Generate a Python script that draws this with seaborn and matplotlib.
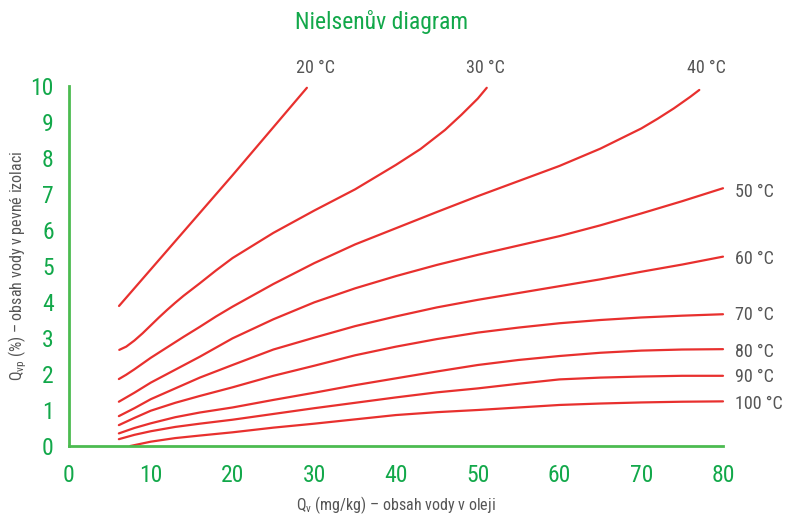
import matplotlib
matplotlib.use("Agg")
import matplotlib.pyplot as plt
from matplotlib import font_manager
import seaborn as sns
import pandas as pd

# Isotherms: water content in oil (mg/kg) vs. water content in solid insulation (%)
x_20 = [6.12, 20, 29.1]
y_20 = [3.89, 7.52, 9.95]

x_30 = [6.15, 7, 8, 9, 10, 11, 12, 13, 14, 16, 18, 20, 25, 30, 35, 40, 43, 46, 48, 50, 51.1]
y_30 = [2.67, 2.76, 2.93, 3.13, 3.35, 3.57, 3.78, 3.98, 4.17, 4.52, 4.88, 5.22, 5.92, 6.54,
        7.13, 7.81, 8.25, 8.78, 9.20, 9.65, 9.95]

x_40 = [6.1, 7, 8, 9, 10, 12, 14, 16, 18, 20, 25, 30, 35, 40, 45, 50, 55, 60, 65, 70, 72, 74, 76, 77.1]
y_40 = [1.86, 1.98, 2.13, 2.29, 2.45, 2.74, 3.03, 3.31, 3.60, 3.87, 4.50, 5.08, 5.60, 6.05,
        6.50, 6.94, 7.36, 7.78, 8.26, 8.82, 9.09, 9.38, 9.70, 9.89]

x_hot = [6.1, 8, 10, 13, 16, 20, 25, 30, 35, 40, 45, 50, 55, 60, 65, 70, 75, 80]
y_50 = [1.23, 1.48, 1.76, 2.12, 2.48, 2.99, 3.52, 3.99, 4.38, 4.72, 5.03, 5.31, 5.57, 5.83, 6.13, 6.46, 6.80, 7.16]
y_60 = [0.83, 1.05, 1.30, 1.60, 1.90, 2.25, 2.68, 3.01, 3.33, 3.60, 3.85, 4.06, 4.25, 4.44, 4.63, 4.84, 5.04, 5.26]
y_70 = [0.58, 0.78, 0.98, 1.20, 1.39, 1.63, 1.95, 2.23, 2.52, 2.76, 2.97, 3.15, 3.29, 3.41, 3.50, 3.57, 3.62, 3.66]
y_80 = [0.35, 0.50, 0.63, 0.80, 0.93, 1.07, 1.28, 1.48, 1.69, 1.88, 2.07, 2.25, 2.39, 2.50, 2.59, 2.65, 2.68, 2.69]
y_90 = [0.19, 0.31, 0.41, 0.53, 0.62, 0.73, 0.89, 1.05, 1.20, 1.35, 1.49, 1.60, 1.73, 1.85, 1.90, 1.93, 1.95, 1.95]

x_100 = [7.5, 10, 13, 16, 20, 25, 30, 35, 40, 45, 50, 55, 60, 65, 70, 75, 80]
y_100 = [0.00, 0.12, 0.22, 0.29, 0.38, 0.51, 0.62, 0.74, 0.86, 0.94, 1.00, 1.07, 1.14, 1.18, 1.21, 1.23, 1.24]

labels_top = ["20 °C", "30 °C", "40 °C"]
labels_right = ["50 °C", "60 °C", "70 °C", "80 °C", "90 °C", "100 °C"]

x_ticks = [0, 10, 20, 30, 40, 50, 60, 70, 80]
y_ticks = [0, 1, 2, 3, 4, 5, 6, 7, 8, 9, 10]

title = "Nielsenův diagram"
xlabel = r"Q$_\mathregular{v}$ (mg/kg) – obsah vody v oleji"
ylabel = r"Q$_\mathregular{vp}$ (%) – obsah vody v pevné izolaci"

RED = "#e8302e"
GREEN = "#12a84a"
AXGREEN = "#4cbb50"
GREY = "#555555"

sns.set_style("white")

available = {f.name for f in font_manager.fontManager.ttflist}
condensed = None
for name in ["Roboto Condensed", "Liberation Sans Narrow", "Open Sans Condensed", "DejaVu Sans Condensed"]:
    if name in available:
        condensed = name
        break
if condensed is None:
    condensed = "DejaVu Sans"
plt.rcParams["font.family"] = [condensed, "DejaVu Sans"]
plt.rcParams["mathtext.fontset"] = "custom"

fig = plt.figure(figsize=(7.91, 5.16), dpi=100)
ax = fig.add_axes([69 / 791, 70 / 516, (723 - 69) / 791, (446 - 86) / 516])

curves = [(x_20, y_20), (x_30, y_30), (x_40, y_40),
          (x_hot, y_50), (x_hot, y_60), (x_hot, y_70),
          (x_hot, y_80), (x_hot, y_90), (x_100, y_100)]
for xs, ys in curves:
    df = pd.DataFrame({"x": xs, "y": ys})
    sns.lineplot(data=df, x="x", y="y", ax=ax, color=RED, linewidth=1.6,
                 estimator=None, sort=False, clip_on=False)

ax.set_xlim(0, 80)
ax.set_ylim(0, 10)
ax.set_xticks(x_ticks)
ax.set_yticks(y_ticks)
ax.set_xlabel(xlabel, fontsize=11.5, color=GREY, va="center")
ax.set_ylabel(ylabel, fontsize=11.5, color=GREY, va="center")
ax.xaxis.set_label_coords(0.5, -0.164)
ax.yaxis.set_label_coords(-0.078, 0.5)

for side in ["top", "right"]:
    ax.spines[side].set_visible(False)
for side in ["left", "bottom"]:
    ax.spines[side].set_color(AXGREEN)
    ax.spines[side].set_linewidth(2)
ax.tick_params(axis="both", direction="out", length=6, width=2, color=AXGREEN,
               labelcolor=GREEN, labelsize=17, pad=7)
ax.tick_params(axis="y", pad=5)

# Temperature labels
top_pos = [(30.1, 10.5), (51.0, 10.5), (78.0, 10.5)]
for txt, (tx, ty) in zip(labels_top, top_pos):
    ax.text(tx, ty, txt, ha="center", va="center", fontsize=13, color=GREY, clip_on=False)
right_pos = [7.06, 5.19, 3.64, 2.61, 1.92, 1.17]
for txt, ty in zip(labels_right, right_pos):
    ax.text(81.5, ty, txt, ha="left", va="center", fontsize=13, color=GREY, clip_on=False)

fig.text(382 / 791, 1 - 22 / 516, title, ha="center", va="center", fontsize=17, color=GREEN)

fig.savefig("out.png", dpi=100)
